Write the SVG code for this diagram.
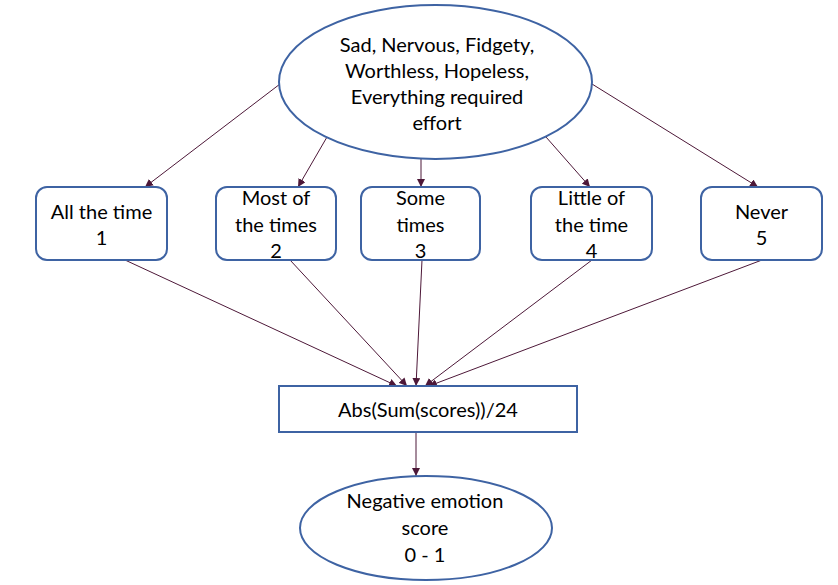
<svg xmlns="http://www.w3.org/2000/svg" width="838" height="585" viewBox="0 0 838 585">
<defs>
<style>
.shape{fill:#ffffff;stroke:#3e63a3;stroke-width:2}
.t{font-family:Lato,"Open Sans","Liberation Sans",sans-serif;font-size:20px;fill:#000;text-anchor:middle}
.c{stroke:#4d1838;stroke-width:1;fill:none;marker-end:url(#ah)}
</style>
<marker id="ah" viewBox="0 0 10 10" refX="10" refY="5" markerWidth="8" markerHeight="8" markerUnits="userSpaceOnUse" orient="auto">
<path d="M0,0 L10,5 L0,10 z" fill="#4d1838"/>
</marker>
</defs>
<rect width="838" height="585" fill="#ffffff"/>
<g id="connectors">
<line class="c" x1="280" y1="84" x2="145" y2="187"/>
<line class="c" x1="327" y1="137" x2="298" y2="187"/>
<line class="c" x1="421" y1="159" x2="421" y2="187"/>
<line class="c" x1="546" y1="137" x2="590" y2="187"/>
<line class="c" x1="592" y1="84" x2="758" y2="187"/>
<line class="c" x1="125" y1="260" x2="397" y2="386"/>
<line class="c" x1="290" y1="260" x2="407" y2="386"/>
<line class="c" x1="422" y1="260" x2="416" y2="386"/>
<line class="c" x1="592" y1="260" x2="425" y2="386"/>
<line class="c" x1="762" y1="260" x2="429" y2="386"/>
<line class="c" x1="416" y1="432" x2="416" y2="476"/>
</g>
<g id="top">
<ellipse class="shape" cx="435.5" cy="82" rx="156.5" ry="77"/>
<text class="t" x="437" y="52">Sad, Nervous, Fidgety,</text>
<text class="t" x="437" y="78">Worthless, Hopeless,</text>
<text class="t" x="437" y="104">Everything required</text>
<text class="t" x="437" y="130">effort</text>
</g>
<g id="n1">
<rect class="shape" x="36" y="187" width="131" height="73" rx="11"/>
<text class="t" x="101.5" y="219">All the time</text>
<text class="t" x="101.5" y="245">1</text>
</g>
<g id="n2">
<rect class="shape" x="216" y="187" width="120" height="73" rx="11"/>
<text class="t" x="276" y="205">Most of</text>
<text class="t" x="276" y="232">the times</text>
<text class="t" x="276" y="258">2</text>
</g>
<g id="n3">
<rect class="shape" x="361" y="187" width="119" height="73" rx="11"/>
<text class="t" x="420.5" y="205">Some</text>
<text class="t" x="420.5" y="232">times</text>
<text class="t" x="420.5" y="258">3</text>
</g>
<g id="n4">
<rect class="shape" x="531" y="187" width="121" height="73" rx="11"/>
<text class="t" x="591.5" y="205">Little of</text>
<text class="t" x="591.5" y="232">the time</text>
<text class="t" x="591.5" y="258">4</text>
</g>
<g id="n5">
<rect class="shape" x="701" y="187" width="121" height="73" rx="11"/>
<text class="t" x="761.5" y="219">Never</text>
<text class="t" x="761.5" y="245">5</text>
</g>
<g id="calc">
<rect class="shape" x="279" y="386" width="298" height="46"/>
<text class="t" x="428" y="417">Abs(Sum(scores))/24</text>
</g>
<g id="result">
<ellipse class="shape" cx="426" cy="528" rx="126" ry="52"/>
<text class="t" x="425" y="508">Negative emotion</text>
<text class="t" x="425" y="535">score</text>
<text class="t" x="425" y="562">0 - 1</text>
</g>
</svg>
